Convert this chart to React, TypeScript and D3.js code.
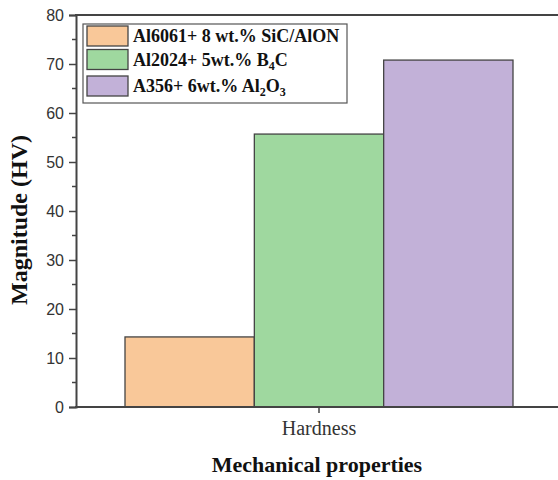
import { useEffect, useRef } from "react";
import * as d3 from "d3";

// hardness values
const categories = ["Hardness"];
const seriesNames = ["Al6061+ 8 wt.% SiC/AlON", "Al2024+ 5wt.% B4C", "A356+ 6wt.% Al2O3"];
const seriesValues = [14.3, 55.7, 70.8];
const seriesColors = ["#f9c899", "#9fd89f", "#c2b1d8"];
const yTicks = [0, 10, 20, 30, 40, 50, 60, 70, 80];

// legend labels with subscripts: [text, isSub]
const legendParts: [string, boolean][][] = [
  [["Al6061+ 8 wt.% SiC/AlON", false]],
  [["Al2024+ 5wt.% B", false], ["4", true], ["C", false]],
  [["A356+ 6wt.% Al", false], ["2", true], ["O", false], ["3", true]],
];

function App() {
  const svgRef = useRef<SVGSVGElement>(null);

  useEffect(() => {
    const w = 558;
    const h = 480;
    const m = { top: 15, right: -4, bottom: 73, left: 76 };
    const axisColor = "#444";
    const serif = "Liberation Serif, Times New Roman, serif";

    const svg = d3.select(svgRef.current).attr("width", w).attr("height", h);
    svg.selectAll("*").remove();

    const y = d3.scaleLinear().domain([0, 80]).range([h - m.bottom, m.top]);
    const x0 = d3.scaleBand().domain(categories).range([m.left, w - m.right]);
    const cx = (x0(categories[0]) ?? 0) + x0.bandwidth() / 2;
    const x1 = d3
      .scaleBand<number>()
      .domain(seriesValues.map((_, i) => i))
      .range([cx - 194, cx + 194]);

    // bars
    svg
      .append("g")
      .selectAll("rect")
      .data(seriesValues)
      .join("rect")
      .attr("x", (_, i) => x1(i) ?? 0)
      .attr("width", x1.bandwidth())
      .attr("y", (d) => y(d))
      .attr("height", (d) => y(0) - y(d))
      .attr("fill", (_, i) => seriesColors[i])
      .attr("stroke", axisColor)
      .attr("stroke-width", 1.3);

    // y axis
    const yAxis = d3
      .axisLeft(y)
      .tickValues(yTicks)
      .tickSize(7)
      .tickPadding(5)
      .tickFormat(d3.format("d"));
    const gy = svg.append("g").attr("transform", `translate(${m.left},0)`).call(yAxis);
    gy.select(".domain").attr("stroke", axisColor).attr("stroke-width", 2);
    gy.selectAll(".tick line").attr("stroke", axisColor).attr("stroke-width", 1.5);
    gy.selectAll(".tick text")
      .attr("font-family", "Liberation Sans, Arial, sans-serif")
      .attr("font-size", 16)
      .attr("fill", "#333");
    // minor ticks
    svg
      .append("g")
      .selectAll("line")
      .data(d3.range(5, 80, 10))
      .join("line")
      .attr("x1", m.left - 4)
      .attr("x2", m.left)
      .attr("y1", (d) => y(d))
      .attr("y2", (d) => y(d))
      .attr("stroke", axisColor)
      .attr("stroke-width", 1.5);

    // x axis
    const xAxis = d3.axisBottom(x0).tickSize(6).tickPadding(8);
    const gx = svg.append("g").attr("transform", `translate(0,${y(0)})`).call(xAxis);
    gx.select(".domain").remove();
    gx.selectAll(".tick line").attr("stroke", axisColor).attr("stroke-width", 1.5);
    gx.selectAll(".tick text")
      .attr("font-family", serif)
      .attr("font-size", 20)
      .attr("fill", "#333");
    svg
      .append("line")
      .attr("x1", m.left - 1)
      .attr("x2", w)
      .attr("y1", y(0))
      .attr("y2", y(0))
      .attr("stroke", axisColor)
      .attr("stroke-width", 2);
    // top frame
    svg
      .append("line")
      .attr("x1", m.left - 1)
      .attr("x2", w)
      .attr("y1", m.top)
      .attr("y2", m.top)
      .attr("stroke", axisColor)
      .attr("stroke-width", 2);

    // axis titles
    svg
      .append("text")
      .attr("transform", `translate(27,220) rotate(-90)`)
      .attr("text-anchor", "middle")
      .attr("font-family", serif)
      .attr("font-weight", "bold")
      .attr("font-size", 24)
      .attr("fill", "#111")
      .text("Magnitude (HV)");
    svg
      .append("text")
      .attr("x", cx - 2)
      .attr("y", 472)
      .attr("text-anchor", "middle")
      .attr("font-family", serif)
      .attr("font-weight", "bold")
      .attr("font-size", 22)
      .attr("fill", "#111")
      .text("Mechanical properties");

    // legend
    const lg = svg.append("g");
    lg.append("rect")
      .attr("x", 83)
      .attr("y", 24)
      .attr("width", 264)
      .attr("height", 79)
      .attr("fill", "white")
      .attr("stroke", "#555")
      .attr("stroke-width", 1.2);
    const rowY = [26, 49.5, 76];
    seriesNames.forEach((name, i) => {
      lg.append("rect")
        .attr("x", 87)
        .attr("y", rowY[i])
        .attr("width", 41)
        .attr("height", 20)
        .attr("fill", seriesColors[i])
        .attr("stroke", axisColor)
        .attr("stroke-width", 1.3)
        .append("title")
        .text(name);
      const t = lg
        .append("text")
        .attr("x", 133)
        .attr("y", rowY[i] + 16)
        .attr("font-family", serif)
        .attr("font-weight", "bold")
        .attr("font-size", 18)
        .attr("fill", "#111");
      legendParts[i].forEach(([s, sub], j) => {
        const prevSub = j > 0 && legendParts[i][j - 1][1];
        t.append("tspan")
          .attr("dy", sub ? 4 : prevSub ? -4 : 0)
          .attr("font-size", sub ? 12 : 18)
          .text(s);
      });
    });
  }, []);

  return (
    <svg
      ref={svgRef}
      style={{ position: "absolute", left: 0, top: 0, display: "block", background: "white" }}
    ></svg>
  );
}

export default App;
